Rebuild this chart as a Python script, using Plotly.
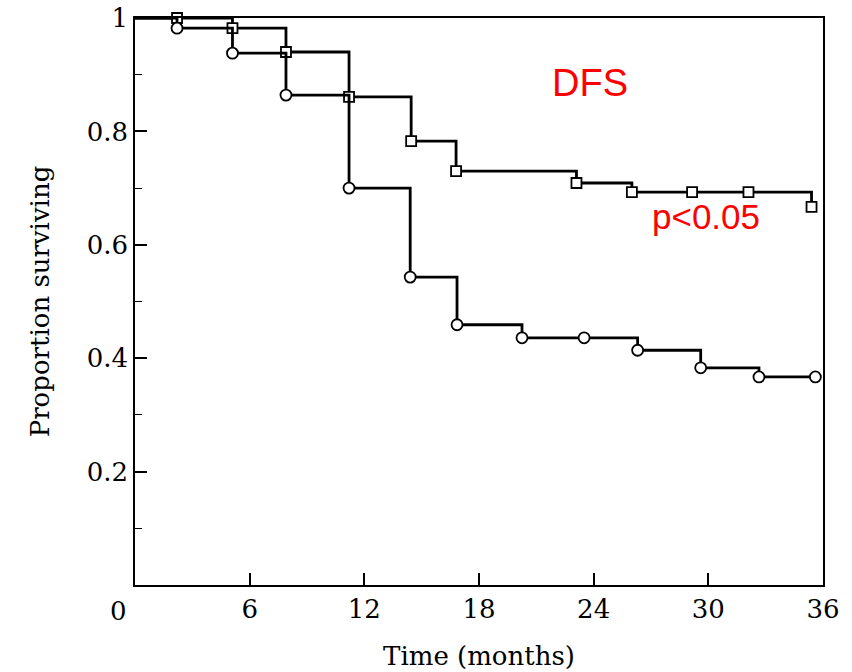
import plotly.graph_objects as go

# Circle group (lower curve): marker times (months) and survival values
circle_t = [2.2, 5.1, 7.9, 11.2, 14.4, 16.85, 20.25, 23.5, 26.3, 29.6, 32.65, 35.6]
circle_s = [0.982, 0.938, 0.864, 0.700, 0.543, 0.459, 0.436, 0.436, 0.414, 0.383, 0.367, 0.367]

# Square group (upper curve)
square_t = [2.2, 5.1, 7.9, 11.2, 14.45, 16.8, 23.1, 26.0, 29.15, 32.1, 35.4]
square_s = [1.0, 0.982, 0.940, 0.861, 0.783, 0.730, 0.709, 0.693, 0.693, 0.693, 0.667]

x_ticks = [0, 6, 12, 18, 24, 30, 36]
y_ticks = [0.2, 0.4, 0.6, 0.8, 1.0]
y_ticklabels = ["0.2", "0.4", "0.6", "0.8", "1"]

serif = "DejaVu Serif"

fig = go.Figure()

for t, s, sym, sz in [(square_t, square_s, "square", 10), (circle_t, circle_s, "circle", 11)]:
    fig.add_trace(go.Scatter(
        x=[0] + t, y=[1.0] + s, mode="lines",
        line=dict(color="black", width=2.8, shape="hv"),
        hoverinfo="skip", showlegend=False, cliponaxis=False))
    fig.add_trace(go.Scatter(
        x=t, y=s, mode="markers",
        marker=dict(symbol=sym, size=sz, color="white",
                    line=dict(color="black", width=1.8)),
        showlegend=False, cliponaxis=False))

fig.add_annotation(x=23.8, y=0.886, xref="x", yref="y", text="DFS", showarrow=False,
                   font=dict(family="Liberation Sans", size=38, color="red"))
fig.add_annotation(x=29.9, y=0.65, xref="x", yref="y", text="p<0.05", showarrow=False,
                   font=dict(family="Liberation Sans", size=35, color="red"))
# "0" x tick label sits a bit left of the axis
fig.add_annotation(x=0, y=0, xref="x", yref="y", text="0", showarrow=False,
                   xshift=-17, yshift=-26,
                   font=dict(family=serif, size=26, color="black"))

fig.update_layout(
    width=852, height=672,
    margin=dict(l=135, r=29, t=18, b=87, autoexpand=False),
    paper_bgcolor="white", plot_bgcolor="white",
    font=dict(family=serif, color="black"),
)
fig.update_xaxes(
    range=[0, 36], tickvals=x_ticks, ticktext=[""] + [str(v) for v in x_ticks[1:]],
    ticks="inside", ticklen=12, tickwidth=1.5, tickcolor="black",
    showline=True, linecolor="black", linewidth=1.5, mirror=True,
    showgrid=False, zeroline=False, automargin=False,
    tickfont=dict(family=serif, size=26),
    title=dict(text="Time (months)", font=dict(family=serif, size=26), standoff=24),
)
fig.update_yaxes(
    range=[0, 1], tickvals=y_ticks, ticktext=y_ticklabels,
    ticks="inside", ticklen=12, tickwidth=1.5, tickcolor="black",
    minor=dict(tickvals=[0.1, 0.3, 0.5, 0.7, 0.9], ticks="inside", ticklen=7,
               tickwidth=1, tickcolor="black"),
    showline=True, linecolor="black", linewidth=1.5, mirror=True,
    showgrid=False, zeroline=False, automargin=False,
    tickfont=dict(family=serif, size=26),
    title=dict(text="Proportion surviving", font=dict(family=serif, size=26), standoff=30),
)

fig.write_html("out.html")
